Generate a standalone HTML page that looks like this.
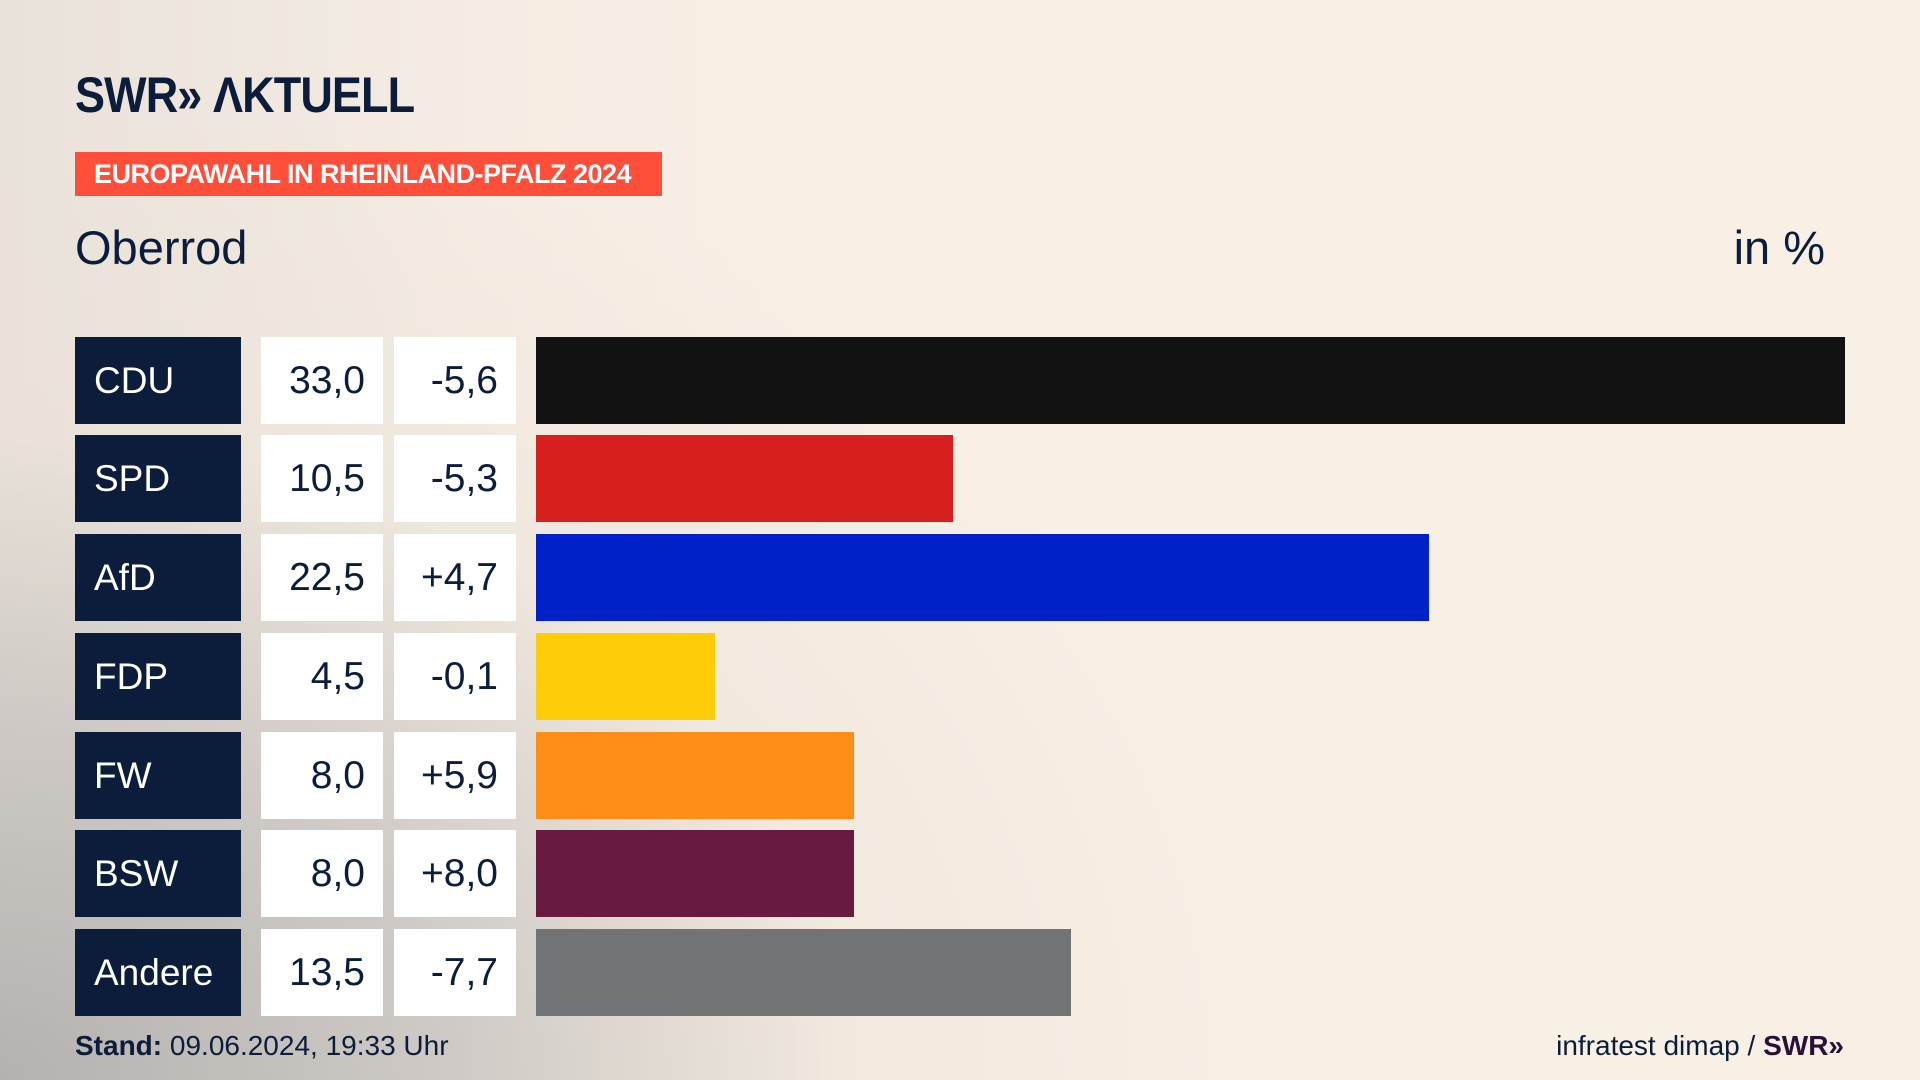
<!DOCTYPE html>
<html><head><meta charset="utf-8"><style>
*{margin:0;padding:0;box-sizing:border-box}
body{width:1920px;height:1080px;overflow:hidden;font-family:"Liberation Sans","DejaVu Sans",sans-serif;color:#0b1d3a;
background:radial-gradient(ellipse 1300px 1000px at 0px 1080px,rgba(180,178,176,1) 0%,rgba(200,196,192,0.85) 35%,rgba(235,226,216,0.5) 65%,rgba(248,240,229,0) 100%),
linear-gradient(90deg,#e9e2da 0%,#f5ede3 25%,#f8f0e5 45%,#f8f0e5 100%);position:relative}
.a{position:absolute}
.logo{left:75px;top:66px;font-size:50px;font-weight:bold;letter-spacing:-1px;transform:scaleX(0.9);transform-origin:left}
.ban{left:75px;top:152px;width:587px;height:44px;background:#ff4f3b;color:#fff;font-weight:bold;font-size:27px;line-height:44px;padding-left:19px;letter-spacing:-0.5px}
.t{top:220px;font-size:47px}
.name{left:75px;width:166px;height:87px;background:#0b1d3a;color:#fff;font-size:37px;line-height:87px;padding-left:19px}
.v{width:122px;height:87px;background:#fff;font-size:39px;line-height:87px;text-align:right;padding-right:18px}
.bar{left:536px;height:87px}
.f{top:1030px;font-size:28px}
</style></head><body>
<div class="a logo">SWR» ΛKTUELL</div>
<div class="a ban">EUROPAWAHL IN RHEINLAND-PFALZ 2024</div>
<div class="a t" style="left:75px">Oberrod</div>
<div class="a t" style="right:95px">in %</div>

<div class="a name" style="top:337px">CDU</div><div class="a v" style="left:261px;top:337px">33,0</div><div class="a v" style="left:394px;top:337px">-5,6</div><div class="a bar" style="top:337px;width:1309px;background:#121212"></div>
<div class="a name" style="top:435px">SPD</div><div class="a v" style="left:261px;top:435px">10,5</div><div class="a v" style="left:394px;top:435px">-5,3</div><div class="a bar" style="top:435px;width:417px;background:#d71f1f"></div>
<div class="a name" style="top:534px">AfD</div><div class="a v" style="left:261px;top:534px">22,5</div><div class="a v" style="left:394px;top:534px">+4,7</div><div class="a bar" style="top:534px;width:893px;background:#0021c8"></div>
<div class="a name" style="top:633px">FDP</div><div class="a v" style="left:261px;top:633px">4,5</div><div class="a v" style="left:394px;top:633px">-0,1</div><div class="a bar" style="top:633px;width:179px;background:#ffcc0a"></div>
<div class="a name" style="top:732px">FW</div><div class="a v" style="left:261px;top:732px">8,0</div><div class="a v" style="left:394px;top:732px">+5,9</div><div class="a bar" style="top:732px;width:318px;background:#ff8e18"></div>
<div class="a name" style="top:830px">BSW</div><div class="a v" style="left:261px;top:830px">8,0</div><div class="a v" style="left:394px;top:830px">+8,0</div><div class="a bar" style="top:830px;width:318px;background:#681a40"></div>
<div class="a name" style="top:929px">Andere</div><div class="a v" style="left:261px;top:929px">13,5</div><div class="a v" style="left:394px;top:929px">-7,7</div><div class="a bar" style="top:929px;width:535px;background:#727374"></div>

<div class="a f" style="left:75px"><b>Stand:</b> 09.06.2024, 19:33 Uhr</div>
<div class="a f" style="right:76px">infratest dimap / <b style="color:#2a0f3a">SWR»</b></div>
</body></html>
